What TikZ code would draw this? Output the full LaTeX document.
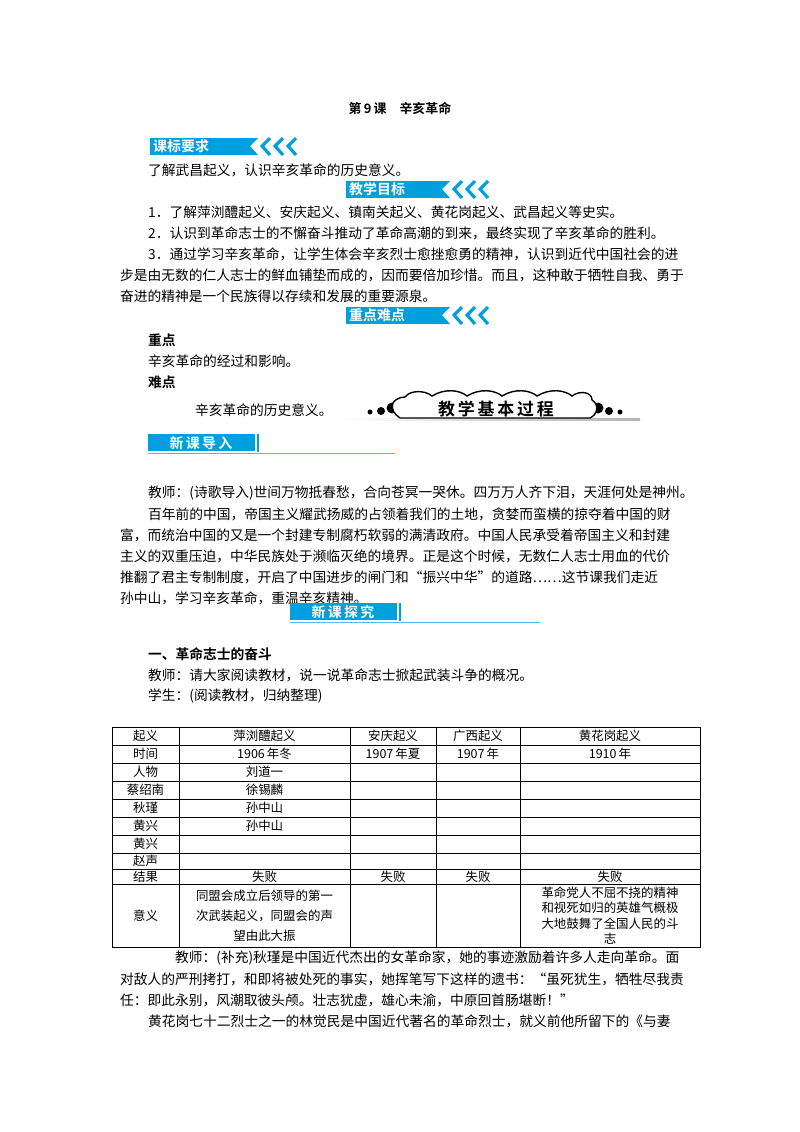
\documentclass[tikz,border=0pt]{standalone}
\usepackage{fontspec}
\setmainfont{Liberation Serif}
\newfontfamily\cjk{Noto Sans CJK SC}
\newfontfamily\cjkb{Noto Sans CJK SC Bold}
\XeTeXlinebreaklocale "zh"
\XeTeXlinebreakskip=0pt plus 2pt
\definecolor{bl}{RGB}{0,160,222}
\newcounter{tn}
\newcommand{\Tl}[3]{\stepcounter{tn}\node[txt] (t\arabic{tn}) at (#1,#2) {#3};}
\newcommand{\Tj}[4]{\stepcounter{tn}\node[txt] (t\arabic{tn}) at (#1,#2) {\hbox to #3bp{#4}};}
\newcommand{\Bnr}[4]{% x y width text
 \fill[bl] (#1,#2-8) rectangle (#1+#3,#2+9);
 \node[font=\cjkb\fontsize{14}{15}\selectfont,text=white,anchor=west,inner sep=0] (b#4) at (#1+3,#2) {#4};
 \fill[bl] (#1+#3,#2-8) -- (#1+#3+18,#2-8) -- (#1+#3+10,#2) -- (#1+#3+18,#2+9) -- (#1+#3,#2+9) -- cycle;
 \foreach \k in {0,1,2}{\draw[bl,line width=3.2] (#1+#3+30+\k*13,#2-8) -- (#1+#3+22+\k*13,#2) -- (#1+#3+30+\k*13,#2+9);}
}
\begin{document}
\begin{tikzpicture}[x=1bp,y=-1bp,
 txt/.style={anchor=west,inner sep=0,font=\cjk\fontsize{13.8}{15}\selectfont},
 cell/.style={inner sep=0,font=\cjk\fontsize{12.5}{14}\selectfont}]
\useasboundingbox (0,0) rectangle (800,1132);
\fill[white] (0,0) rectangle (800,1132);
\node[font=\cjkb\fontsize{13}{15}\selectfont] (title) at (400,108) {第\,9\,课\quad 辛亥革命};
\Bnr{150}{146}{90}{课标要求}
\Tl{148}{170}{了解武昌起义，认识辛亥革命的历史意义。}
\Bnr{346}{189}{86}{教学目标}
\Tl{148}{212}{1．了解萍浏醴起义、安庆起义、镇南关起义、黄花岗起义、武昌起义等史实。}
\Tj{148}{233}{534}{2．认识到革命志士的不懈奋斗推动了革命高潮的到来，最终实现了辛亥革命的胜利。}
\Tj{148}{254}{534}{3．通过学习辛亥革命，让学生体会辛亥烈士愈挫愈勇的精神，认识到近代中国社会的进}
\Tj{120}{275}{562}{步是由无数的仁人志士的鲜血铺垫而成的，因而要倍加珍惜。而且，这种敢于牺牲自我、勇于}
\Tl{120}{296}{奋进的精神是一个民族得以存续和发展的重要源泉。}
\Bnr{346}{315}{86}{重点难点}
\node[txt,font=\cjkb\fontsize{13.8}{15}\selectfont] (zd) at (148,340) {重点};
\Tl{148}{361}{辛亥革命的经过和影响。}
\node[txt,font=\cjkb\fontsize{13.8}{15}\selectfont] (nd) at (148,382) {难点};
\Tl{195}{410}{辛亥革命的历史意义。}
% decorative banner
\shade[left color=white,right color=gray!60] (340,418) rectangle (640,420);
\fill (370,412) circle (2.5) (381,411) circle (4) (392,408) circle (5.5);
\fill (620,412) circle (2.5) (609,411) circle (4) (598,408) circle (5.5);
\draw[line width=1.4,fill=white] (400,418) .. controls (388,410) and (390,398) .. (405,397) .. controls (410,390) and (425,390) .. (432,396) .. controls (445,388) and (460,390) .. (467,396) .. controls (480,388) and (495,390) .. (502,396) .. controls (515,388) and (530,390) .. (537,396) .. controls (550,388) and (565,390) .. (572,396) .. controls (580,390) and (592,392) .. (592,400) .. controls (600,405) and (597,415) .. (590,418) -- cycle;
\node[font=\cjkb\fontsize{17}{18}\selectfont] (jx) at (496,409) {教\,学\,基\,本\,过\,程};
% 新课导入
\fill[bl] (148,434) rectangle (255,451);
\draw[bl,line width=1.2] (258,434) -- (258,452);
\draw[bl!70] (148,453) -- (395,453);
\node[font=\cjkb\fontsize{14}{15}\selectfont,text=white] (xkdr) at (201,443) {新\,课\,导\,入};
\Tj{148}{493}{534}{教师：(诗歌导入)世间万物抵春愁，合向苍冥一哭休。四万万人齐下泪，天涯何处是神州。}
\Tj{148}{514}{534}{百年前的中国，帝国主义耀武扬威的占领着我们的土地，贪婪而蛮横的掠夺着中国的财}
\Tj{120}{535}{562}{富，而统治中国的又是一个封建专制腐朽软弱的满清政府。中国人民承受着帝国主义和封建}
\Tj{120}{556}{562}{主义的双重压迫，中华民族处于濒临灭绝的境界。正是这个时候，无数仁人志士用血的代价}
\Tj{120}{577}{562}{推翻了君主专制制度，开启了中国进步的闸门和“振兴中华”的道路……这节课我们走近}
\Tl{120}{598}{孙中山，学习辛亥革命，重温辛亥精神。}
% 新课探究
\fill[bl] (290,603) rectangle (397,620);
\draw[bl,line width=1.2] (400,603) -- (400,621);
\draw[bl!70] (290,622) -- (540,622);
\node[font=\cjkb\fontsize{14}{15}\selectfont,text=white] (xktj) at (343,612) {新\,课\,探\,究};
\node[txt,font=\cjkb\fontsize{13.8}{15}\selectfont] (s1) at (148,654) {一、革命志士的奋斗};
\Tl{148}{675}{教师：请大家阅读教材，说一说革命志士掀起武装斗争的概况。}
\Tl{148}{696}{学生：(阅读教材，归纳整理)}
% table
\draw[line width=0.6] (112,727) rectangle (700,947);
\foreach \yy in {745,763,781,799,817,835,853,869,884}{\draw[line width=0.6] (112,\yy) -- (700,\yy);}
\foreach \xx in {179,350,436,520}{\draw[line width=0.6] (\xx,727) -- (\xx,947);}
\node[cell] (c11) at (145.5,736) {起义};
\node[cell] (c12) at (264.5,736) {萍浏醴起义};
\node[cell] (c13) at (393,736) {安庆起义};
\node[cell] (c14) at (478,736) {广西起义};
\node[cell] (c15) at (610,736) {黄花岗起义};
\node[cell] (c21) at (145.5,754) {时间};
\node[cell] (c22) at (264.5,754) {1906\,年冬};
\node[cell] (c23) at (393,754) {1907\,年夏};
\node[cell] (c24) at (478,754) {1907\,年};
\node[cell] (c25) at (610,754) {1910\,年};
\node[cell] (c31) at (145.5,772) {人物};
\node[cell] (c32) at (264.5,772) {刘道一};
\node[cell] (c41) at (145.5,790) {蔡绍南};
\node[cell] (c42) at (264.5,790) {徐锡麟};
\node[cell] (c51) at (145.5,808) {秋瑾};
\node[cell] (c52) at (264.5,808) {孙中山};
\node[cell] (c61) at (145.5,826) {黄兴};
\node[cell] (c62) at (264.5,826) {孙中山};
\node[cell] (c71) at (145.5,844) {黄兴};
\node[cell] (c81) at (145.5,861) {赵声};
\node[cell] (c91) at (145.5,876.5) {结果};
\node[cell] (c92) at (264.5,876.5) {失败};
\node[cell] (c93) at (393,876.5) {失败};
\node[cell] (c94) at (478,876.5) {失败};
\node[cell] (c95) at (610,876.5) {失败};
\node[cell] (c101) at (145.5,915.5) {意义};
\node[cell,align=center,font=\cjk\fontsize{12.5}{20}\selectfont] (c102) at (264.5,915.5) {同盟会成立后领导的第一\\次武装起义，同盟会的声\\望由此大振};
\node[cell,align=center,font=\cjk\fontsize{12.5}{15.5}\selectfont] (c105) at (610,915.5) {革命党人不屈不挠的精神\\和视死如归的英雄气概极\\大地鼓舞了全国人民的斗\\志};
\Tj{175}{958}{507}{教师：(补充)秋瑾是中国近代杰出的女革命家，她的事迹激励着许多人走向革命。面}
\Tj{120}{979}{562}{对敌人的严刑拷打，和即将被处死的事实，她挥笔写下这样的遗书：“虽死犹生，牺牲尽我责}
\Tl{120}{1000}{任：即此永别，风潮取彼头颅。壮志犹虚，雄心未渝，中原回首肠堪断！”}
\Tj{148}{1021}{534}{黄花岗七十二烈士之一的林觉民是中国近代著名的革命烈士，就义前他所留下的《与妻}
\end{tikzpicture}
\end{document}
